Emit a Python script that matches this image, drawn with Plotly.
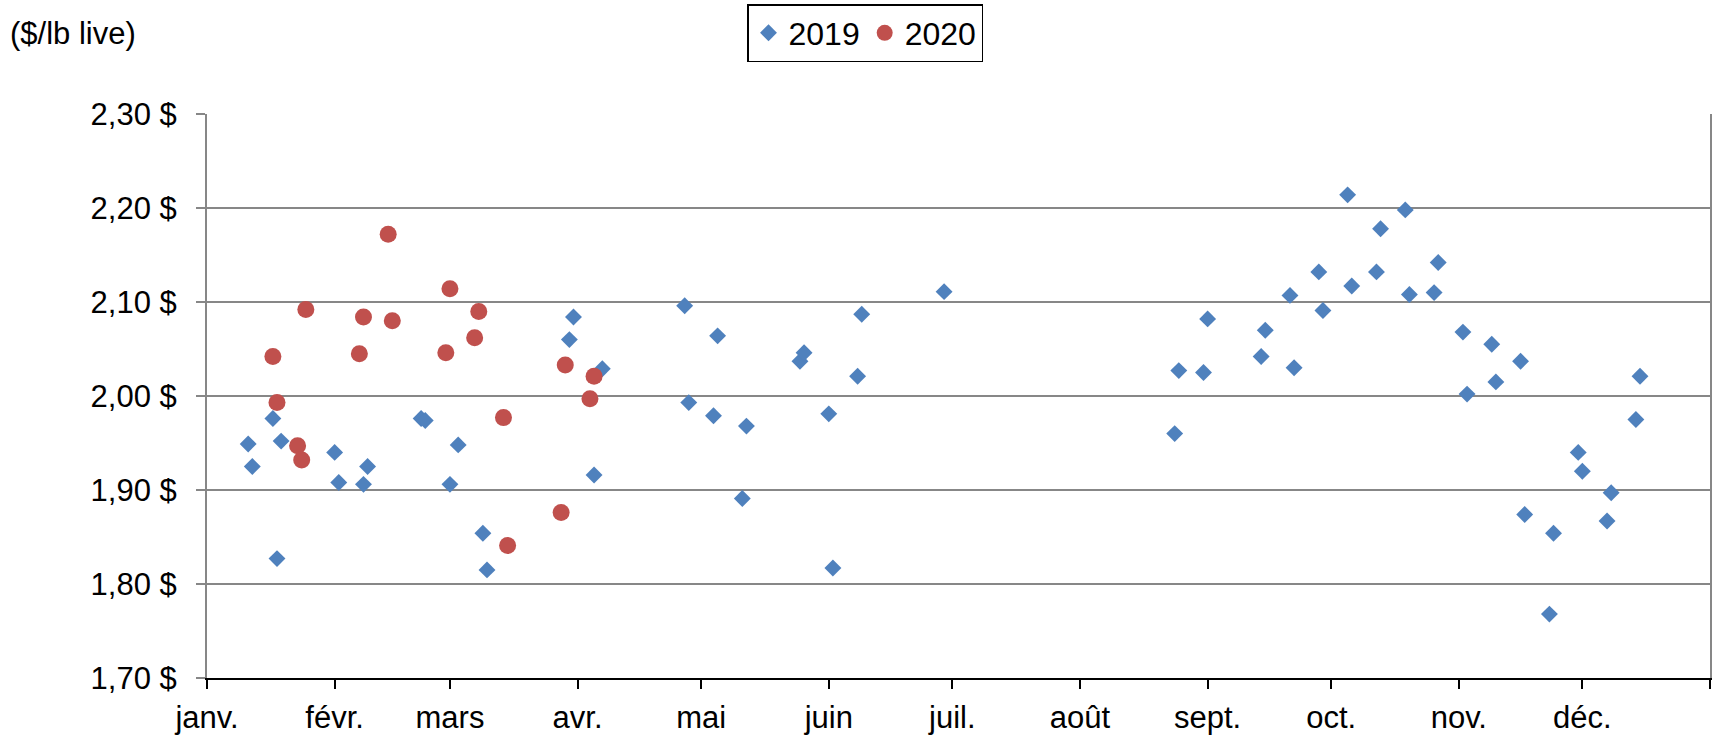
import plotly.graph_objects as go

# ---------------- data ----------------
month_labels = ["janv.", "févr.", "mars", "avr.", "mai", "juin", "juil.",
                "août", "sept.", "oct.", "nov.", "déc.", ""]
month_starts = ["2019-01-01", "2019-02-01", "2019-03-01", "2019-04-01",
                "2019-05-01", "2019-06-01", "2019-07-01", "2019-08-01",
                "2019-09-01", "2019-10-01", "2019-11-01", "2019-12-01",
                "2020-01-01"]

y_ticks = [1.70, 1.80, 1.90, 2.00, 2.10, 2.20, 2.30]
y_tick_labels = ["1,70 $", "1,80 $", "1,90 $", "2,00 $", "2,10 $", "2,20 $", "2,30 $"]

dates_2019 = [
    "2019-01-11", "2019-01-12", "2019-01-17", "2019-01-18", "2019-01-19",
    "2019-02-01", "2019-02-02", "2019-02-08", "2019-02-09", "2019-02-22",
    "2019-02-23", "2019-03-01", "2019-03-03", "2019-03-09", "2019-03-10",
    "2019-03-30", "2019-03-31", "2019-04-05", "2019-04-07", "2019-04-27",
    "2019-04-28", "2019-05-04", "2019-05-05", "2019-05-11", "2019-05-12",
    "2019-05-25", "2019-05-26", "2019-06-01", "2019-06-02", "2019-06-08",
    "2019-06-09", "2019-06-29", "2019-08-24", "2019-08-25", "2019-08-31",
    "2019-09-01", "2019-09-14", "2019-09-15", "2019-09-21", "2019-09-22",
    "2019-09-28", "2019-09-29", "2019-10-05", "2019-10-06", "2019-10-12",
    "2019-10-13", "2019-10-19", "2019-10-20", "2019-10-26", "2019-10-27",
    "2019-11-02", "2019-11-03", "2019-11-09", "2019-11-10", "2019-11-16",
    "2019-11-17", "2019-11-23", "2019-11-24", "2019-11-30", "2019-12-01",
    "2019-12-07", "2019-12-08", "2019-12-14", "2019-12-15",
]
prices_2019 = [
    1.949, 1.925, 1.976, 1.827, 1.952,
    1.940, 1.908, 1.906, 1.925, 1.976,
    1.974, 1.906, 1.948, 1.854, 1.815,
    2.060, 2.084, 1.916, 2.029, 2.096,
    1.993, 1.979, 2.064, 1.891, 1.968,
    2.037, 2.046, 1.981, 1.817, 2.021,
    2.087, 2.111, 1.960, 2.027, 2.025,
    2.082, 2.042, 2.070, 2.107, 2.030,
    2.132, 2.091, 2.214, 2.117, 2.132,
    2.178, 2.198, 2.108, 2.110, 2.142,
    2.068, 2.002, 2.055, 2.015, 2.037,
    1.874, 1.768, 1.854, 1.940, 1.920,
    1.867, 1.897, 1.975, 2.021,
]

dates_2020 = [
    "2020-01-17", "2020-01-18", "2020-01-23", "2020-01-24", "2020-01-25",
    "2020-02-07", "2020-02-08", "2020-02-14", "2020-02-15", "2020-02-28",
    "2020-03-01", "2020-03-07", "2020-03-08", "2020-03-14", "2020-03-15",
    "2020-03-28", "2020-03-29", "2020-04-04", "2020-04-05",
]
prices_2020 = [
    2.042, 1.993, 1.947, 1.932, 2.092,
    2.045, 2.084, 2.172, 2.080, 2.046,
    2.114, 2.062, 2.090, 1.977, 1.841,
    1.876, 2.033, 1.997, 2.021,
]

# 2020 values are shown on the same month/day axis as 2019
x_2020 = ["2019" + d[4:] for d in dates_2020]

# ---------------- figure ----------------
W, H = 1713, 735
ML, MR, MT, MB = 207, 3, 114, 57
BLUE = "#4F81BD"
RED = "#C0504D"
GRID = "#878787"
FONT = "Liberation Sans, Arial, sans-serif"

fig = go.Figure()
fig.add_trace(go.Scatter(
    x=dates_2019, y=prices_2019, mode="markers", name="2019",
    marker=dict(symbol="diamond", size=13, color=BLUE, line=dict(width=0)),
    cliponaxis=False,
))
fig.add_trace(go.Scatter(
    x=x_2020, y=prices_2020, mode="markers", name="2020",
    marker=dict(symbol="circle", size=17, color=RED, line=dict(width=0)),
    cliponaxis=False,
))

plot_w = W - ML - MR
plot_h = H - MT - MB

fig.update_layout(
    width=W, height=H,
    margin=dict(l=ML, r=MR, t=MT, b=MB, pad=0),
    plot_bgcolor="white", paper_bgcolor="white",
    font=dict(family=FONT, size=31, color="black"),
    showlegend=True,
    legend=dict(
        orientation="h",
        xref="container", yref="container",
        x=747 / W, y=1 - 4 / H,
        xanchor="left", yanchor="top",
        bordercolor="black", borderwidth=1.5, bgcolor="white",
        font=dict(family=FONT, size=32, color="black"),
    ),
    xaxis=dict(
        type="date",
        range=[month_starts[0], month_starts[-1]],
        tickmode="array", tickvals=month_starts, ticktext=month_labels,
        ticks="outside", ticklen=9, tickwidth=2, tickcolor="black",
        showline=True, linecolor="black", linewidth=2,
        showgrid=False, zeroline=False,
        ticklabelstandoff=2, automargin=False,
    ),
    yaxis=dict(
        range=[y_ticks[0], y_ticks[-1]],
        tickmode="array", tickvals=y_ticks, ticktext=y_tick_labels,
        ticks="outside", ticklen=9, tickwidth=2, tickcolor=GRID,
        showline=True, linecolor=GRID, linewidth=2, mirror=True,
        showgrid=True, gridcolor=GRID, gridwidth=2,
        zeroline=False,
        ticklabelstandoff=13, automargin=False,
    ),
    annotations=[dict(
        text="($/lb live)", showarrow=False,
        xref="paper", yref="paper",
        x=(8 - ML) / plot_w, y=(H - MB - 33) / plot_h,
        xanchor="left", yanchor="middle",
        font=dict(family=FONT, size=31, color="black"),
    )],
)

fig.write_html(
    "out.html",
    config={"displayModeBar": False},
    post_script="document.body.style.margin='0';document.body.style.overflow='hidden';",
)
